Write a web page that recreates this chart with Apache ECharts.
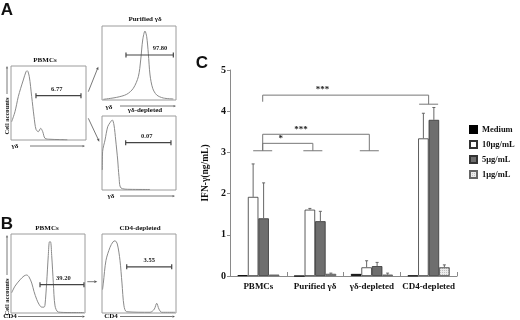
<!DOCTYPE html>
<html><head><meta charset="utf-8">
<script src="https://cdn.jsdelivr.net/npm/echarts/dist/echarts.min.js"></script>
<style>html,body{margin:0;padding:0;background:#fff}#c{width:520px;height:320px}</style>
</head><body><div id="c"></div>
<script>
// ---------- Panel C data ----------
const categories = ['PBMCs', 'Purified γδ', 'γδ-depleted', 'CD4-depleted'];
const doses = ['Medium', '10μg/mL', '5μg/mL', '1μg/mL'];
const medium = [0.02, 0.00, 0.05, 0.01];
const dose10 = [1.92, 1.61, 0.21, 3.34];
const dose5 = [1.40, 1.33, 0.24, 3.79];
const dose1 = [0.03, 0.05, 0.03, 0.21];
const errMedium = [0, 0, 0, 0];
const err10 = [0.80, 0.03, 0.16, 0.61];
const err5 = [0.86, 0.24, 0.09, 0.30];
const err1 = [0.00, 0.02, 0.04, 0.06];
const yTicks = [0, 1, 2, 3, 4, 5];
// significance brackets
const bracketFrom = [0, 0, 0];
const bracketTo = [3, 2, 1];
const bracketLevel = [4.39, 3.44, 3.22];
const bracketLeftEnd = [4.23, 3.04, 3.04];
const bracketRightEnd = [4.17, 3.04, 3.04];
const bracketLabels = ['***', '***', '*'];
const capCategory = [0, 1, 2, 3];
const capLevel = [3.04, 3.04, 3.04, 4.17];

// ---------- Panels A/B histogram data (x: fluorescence, y: relative count, 0-100) ----------
const histA_PBMCs = [[0.9,24.7],[5.3,38.2],[9.7,58.5],[12.9,69.9],[16.4,81.1],[20,92.3],[21.7,93.6],[24.4,85.5],[27.6,58.5],[30.7,31.5],[33.3,14.5],[36.4,11.2],[39.6,15.8],[42.3,11.2],[45.3,2.3],[52,1.0],[65,0.6],[75,0.4]];
const histA_Purified = [[1.8,0.9],[19.9,3.6],[33.4,7.7],[42.3,15.8],[49.1,31.5],[52.3,54.1],[55,81.1],[58.1,93.2],[60.4,85.5],[62.6,63.1],[64.9,33.8],[68.5,15.8],[73.9,6.8],[82.8,2.7],[96.4,1.4]];
const histA_GDdepleted = [[0.4,27],[0.8,51.8],[4.1,67.6],[7.7,85.5],[10.8,90.9],[13.9,94.6],[16.2,87.8],[18.5,67.6],[21.2,40.5],[23,18],[25.7,2.7],[37.8,0.9],[64.9,0.7]];
const histB_PBMCs = [[0.9,25.6],[5.4,34],[12.2,42],[17.6,46.9],[21.2,48.1],[24.3,45.7],[28,37.9],[31.1,27.2],[34.7,17.3],[37.8,11.1],[41.5,7.4],[44.6,7.4],[45.9,9.9],[48.2,38.3],[50.4,72.8],[52,90.1],[53.4,90.1],[55,72.8],[57.2,38.3],[59.5,9],[63.9,1.2],[79.7,0.6],[98.6,0.6]];
const histB_CD4depleted = [[0.7,29.6],[1.8,37.9],[5.4,66.7],[10.8,83.1],[14.9,90.1],[17.6,91.4],[20.7,87.3],[24.3,66.7],[27,37.9],[29.7,9],[33.4,1.6],[64.9,0.9],[70.7,4.9],[73.9,12.3],[77,4.9],[80.7,0.9],[98.6,0.9]];
const gateStart = [33.3, 32.4, 32.0, 39.2, 33.4];
const gateEnd = [93.3, 96.4, 93.2, 98.6, 94.2];
const gateLevel = [59.9, 60.8, 63.9, 35.8, 58.4];
const gateLabels = ['6.77', '97.80', '0.07', '39.20', '3.55'];

// ---------- layout / style ----------
const SERIF = '"Liberation Serif","Times New Roman",serif';
const SANS = '"Liberation Sans",Arial,sans-serif';
const gateLabelX = [61, 78.4, 60.4, 70.7, 63.9];
const legOffset = [0.076, -0.04, -0.045, 0];
const CAT_GAP = 0.26;

const chart = echarts.init(document.getElementById('c'), null, {renderer: 'canvas'});

const histGrids = [
  {left: 11, top: 66, width: 75, height: 74},
  {left: 102, top: 26, width: 74, height: 74},
  {left: 102, top: 116, width: 74, height: 74},
  {left: 11, top: 234, width: 74, height: 79},
  {left: 102, top: 234, width: 74, height: 79}
];
const histData = [histA_PBMCs, histA_Purified, histA_GDdepleted, histB_PBMCs, histB_CD4depleted];

const grids = [{left: 230, top: 70, width: 227, height: 206}].concat(
  histGrids.map(g => Object.assign({show: true, borderColor: '#9c9c9c', borderWidth: 1, backgroundColor: 'transparent'}, g)));

const xAxes = [{
  type: 'category', gridIndex: 0, data: categories,
  axisLine: {lineStyle: {color: '#8a8a8a', width: 1}},
  axisTick: {show: true, inside: true, length: 4, lineStyle: {color: '#8a8a8a'}},
  axisLabel: {interval: 0, fontFamily: SERIF, fontWeight: 'bold', fontSize: 9, color: '#111', margin: 6}
}];
const yAxes = [{
  type: 'value', gridIndex: 0, min: yTicks[0], max: yTicks[yTicks.length - 1], interval: 1,
  name: 'IFN-γ(ng/mL)', nameLocation: 'middle', nameGap: 19,
  nameTextStyle: {fontFamily: SERIF, fontWeight: 'bold', fontSize: 9.5, color: '#111'},
  axisLine: {show: true, lineStyle: {color: '#8a8a8a', width: 1}},
  axisTick: {show: true, length: 3, lineStyle: {color: '#8a8a8a'}},
  splitLine: {show: false},
  axisLabel: {fontFamily: SERIF, fontWeight: 'bold', fontSize: 10, color: '#111', margin: 4}
}];
histGrids.forEach((g, i) => {
  xAxes.push({type: 'value', gridIndex: i + 1, min: 0, max: 100, show: false});
  yAxes.push({type: 'value', gridIndex: i + 1, min: 0, max: 100, show: false});
});

const barStyles = [
  {color: '#000', borderColor: '#000', borderWidth: 0.8},
  {color: '#fff', borderColor: '#333', borderWidth: 0.8},
  {color: '#6e6e6e', borderColor: '#333', borderWidth: 0.8},
  {color: '#ececec', borderColor: '#666', borderWidth: 0.8,
   decal: {symbol: 'rect', symbolSize: 1, dashArrayX: [1, 1], dashArrayY: [1, 1], color: 'rgba(0,0,0,0.18)'}}
];
const values = [medium, dose10, dose5, dose1];
const errs = [errMedium, err10, err5, err1];

const series = [];
doses.forEach((d, k) => {
  series.push({
    name: d, type: 'bar', xAxisIndex: 0, yAxisIndex: 0, data: values[k],
    barGap: '0%', barCategoryGap: (CAT_GAP * 100) + '%', itemStyle: barStyles[k]
  });
});

const errData = [];
for (let k = 0; k < 4; k++) for (let i = 0; i < 4; i++) errData.push([i, k, values[k][i], errs[k][i]]);
series.push({
  type: 'custom', xAxisIndex: 0, yAxisIndex: 0, data: errData, silent: true, z: 5,
  renderItem: function (params, api) {
    const cat = api.value(0), k = api.value(1), v = api.value(2), e = api.value(3);
    if (!(e > 0)) return null;
    const band = api.size([1, 0])[0];
    const bw = band * (1 - CAT_GAP) / 4;
    const b = api.coord([cat, v]);
    const t = api.coord([cat, v + e]);
    const x = b[0] + (k - 1.5) * bw;
    return {type: 'group', children: [
      {type: 'line', shape: {x1: x, y1: b[1], x2: x, y2: t[1]}, style: {stroke: '#666', lineWidth: 1}},
      {type: 'line', shape: {x1: x - 1.5, y1: t[1], x2: x + 1.5, y2: t[1]}, style: {stroke: '#666', lineWidth: 1}}
    ]};
  }
});

// brackets
const bracketData = bracketFrom.map((f, i) => [f, bracketTo[i], bracketLevel[i], bracketLeftEnd[i], bracketRightEnd[i]]);
series.push({
  type: 'custom', xAxisIndex: 0, yAxisIndex: 0, data: bracketData, silent: true, z: 6,
  renderItem: function (params, api) {
    const band = api.size([1, 0])[0];
    const f = api.value(0), t = api.value(1);
    const xl = api.coord([f, 0])[0] + legOffset[f] * band;
    const xr = api.coord([t, 0])[0] + legOffset[t] * band;
    const yl = api.coord([f, api.value(2)])[1];
    const y0 = api.coord([f, api.value(3)])[1];
    const y1 = api.coord([t, api.value(4)])[1];
    return {type: 'group', children: [
      {type: 'polyline', shape: {points: [[xl, y0], [xl, yl], [xr, yl], [xr, y1]]}, style: {stroke: '#777', lineWidth: 1, fill: null}},
      {type: 'text', x: xl + 0.36 * (xr - xl), y: yl - 0.5, style: {text: bracketLabels[params.dataIndex], font: 'bold 9px ' + SERIF, fill: '#222', align: 'center', verticalAlign: 'bottom'}}
    ]};
  }
});
series.push({
  type: 'custom', xAxisIndex: 0, yAxisIndex: 0, data: capCategory.map((c, i) => [c, capLevel[i]]), silent: true, z: 6,
  renderItem: function (params, api) {
    const band = api.size([1, 0])[0];
    const c = api.value(0);
    const p = api.coord([c, api.value(1)]);
    const x = p[0] + legOffset[c] * band;
    return {type: 'line', shape: {x1: x - 9.5, y1: p[1], x2: x + 9.5, y2: p[1]}, style: {stroke: '#777', lineWidth: 1}};
  }
});

// histograms
histData.forEach((d, i) => {
  series.push({
    type: 'line', xAxisIndex: i + 1, yAxisIndex: i + 1, data: d, smooth: 0.3, symbol: 'none',
    lineStyle: {color: '#8a8a8a', width: 1}, silent: true, clip: false
  });
  series.push({
    type: 'custom', xAxisIndex: i + 1, yAxisIndex: i + 1, silent: true, z: 4,
    data: [[gateStart[i], gateEnd[i], gateLevel[i]]],
    renderItem: function (params, api) {
      const p1 = api.coord([api.value(0), api.value(2)]);
      const p2 = api.coord([api.value(1), api.value(2)]);
      const pl = api.coord([gateLabelX[i], api.value(2)]);
      const s = {stroke: '#444', lineWidth: 1.2};
      return {type: 'group', children: [
        {type: 'line', shape: {x1: p1[0], y1: p1[1], x2: p2[0], y2: p2[1]}, style: s},
        {type: 'line', shape: {x1: p1[0], y1: p1[1] - 2.5, x2: p1[0], y2: p1[1] + 2.5}, style: s},
        {type: 'line', shape: {x1: p2[0], y1: p2[1] - 2.5, x2: p2[0], y2: p2[1] + 2.5}, style: s},
        {type: 'text', x: pl[0], y: pl[1] - 3, style: {text: gateLabels[i], font: 'bold 6.5px ' + SERIF, fill: '#222', align: 'center', verticalAlign: 'bottom'}}
      ]};
    }
  });
});

function arrow(x1, y1, x2, y2, h) {
  const a = Math.atan2(y2 - y1, x2 - x1);
  h = h || 3;
  const bx = x2 - h * Math.cos(a), by = y2 - h * Math.sin(a);
  const px = 0.45 * h * Math.sin(a), py = 0.45 * h * Math.cos(a);
  return {type: 'group', silent: true, children: [
    {type: 'line', shape: {x1, y1, x2: bx, y2: by}, style: {stroke: '#555', lineWidth: 0.8}},
    {type: 'polygon', shape: {points: [[x2, y2], [bx + px, by - py], [bx - px, by + py]]}, style: {fill: '#555'}}
  ]};
}
function txt(x, y, text, font, rot) {
  return {type: 'text', x, y, rotation: rot || 0, silent: true,
    style: {text, font, fill: '#111', align: 'center', verticalAlign: 'middle'}};
}
const small = 'bold 7px ' + SERIF;
const graphic = [
  txt(7, 10, 'A', 'bold 17px ' + SANS),
  txt(7, 224, 'B', 'bold 17px ' + SANS),
  txt(202, 63, 'C', 'bold 17px ' + SANS),
  txt(45, 60.5, 'PBMCs', small),
  txt(145, 19, 'Purified γδ', small),
  txt(145, 110, 'γδ-depleted', small),
  txt(47, 228.5, 'PBMCs', small),
  txt(140, 228.5, 'CD4-depleted', small),
  txt(15, 146.5, 'γδ', small), arrow(30, 146, 85, 146, 2.5),
  txt(109, 107, 'γδ', small), arrow(120, 106, 176, 106, 2.5),
  txt(111, 196.5, 'γδ', small), arrow(120, 196, 175, 196, 2.5),
  txt(10, 316.5, 'CD4', small), arrow(18, 316.5, 85, 316.5, 2.5),
  txt(111, 316.5, 'CD4', small), arrow(120, 316.5, 175, 316.5, 2.5),
  txt(7, 116, 'Cell accounts', 'bold 6.5px ' + SERIF, Math.PI / 2), arrow(7, 94, 7, 66, 2.5),
  txt(7, 297, 'Cell accounts', 'bold 6.5px ' + SERIF, Math.PI / 2), arrow(7, 275, 7, 235, 2.5),
  arrow(88.3, 91.7, 98.3, 66.7, 3),
  arrow(88.3, 118.3, 99.3, 141.7, 3),
  arrow(87.3, 281.7, 97.3, 281.7, 3)
];

chart.setOption({
  animation: false,
  backgroundColor: '#fff',
  grid: grids,
  xAxis: xAxes,
  yAxis: yAxes,
  legend: {
    data: doses, orient: 'vertical', left: 469, top: 125, padding: 0, icon: 'rect',
    itemWidth: 7, itemHeight: 7, itemGap: 6,
    textStyle: {fontFamily: SERIF, fontWeight: 'bold', fontSize: 8.5, color: '#111', padding: [0, 0, 0, 0]}
  },
  series: series,
  graphic: graphic
});
</script>
</body></html>
